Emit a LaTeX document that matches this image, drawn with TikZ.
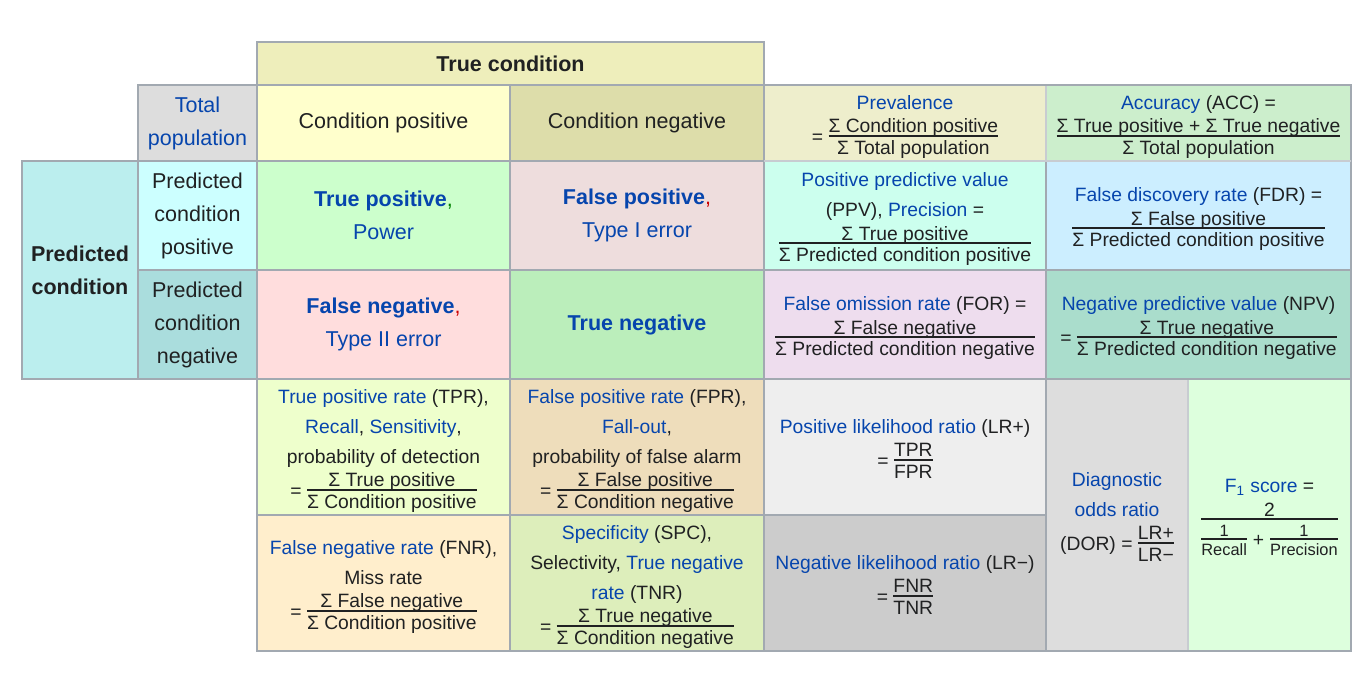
\documentclass[tikz,border=0pt]{standalone}
\usepackage{fontspec}
\setmainfont{Liberation Sans}
\usepackage{xcolor}
\usepackage{tikz}

\definecolor{ink}{HTML}{202122}
\definecolor{wlink}{HTML}{0645AD}
\definecolor{gridc}{HTML}{A2A9B1}
\definecolor{softgrid}{HTML}{C8CCD1}
\definecolor{commared}{HTML}{CC0000}
\definecolor{commagreen}{HTML}{008000}
% cell colours
\definecolor{truecondbg}{HTML}{EEEEBB}
\definecolor{totpopbg}{HTML}{DDDDDD}
\definecolor{condposbg}{HTML}{FFFFCC}
\definecolor{condnegbg}{HTML}{DDDDAA}
\definecolor{prevbg}{HTML}{EEEECC}
\definecolor{accbg}{HTML}{CCEECC}
\definecolor{predcondbg}{HTML}{BBEEEE}
\definecolor{predposbg}{HTML}{CCFFFF}
\definecolor{prednegbg}{HTML}{AADDDD}
\definecolor{tpbg}{HTML}{CCFFCC}
\definecolor{fpbg}{HTML}{EEDDDD}
\definecolor{ppvbg}{HTML}{CCFFEE}
\definecolor{fdrbg}{HTML}{CCEEFF}
\definecolor{fnbg}{HTML}{FFDDDD}
\definecolor{tnbg}{HTML}{BBEEBB}
\definecolor{forbg}{HTML}{EEDDEE}
\definecolor{npvbg}{HTML}{AADDCC}
\definecolor{tprbg}{HTML}{EEFFCC}
\definecolor{fprbg}{HTML}{EEDDBB}
\definecolor{lrposbg}{HTML}{EEEEEE}
\definecolor{fnrbg}{HTML}{FFEECC}
\definecolor{tnrbg}{HTML}{DDEEBB}
\definecolor{lrnegbg}{HTML}{CCCCCC}
\definecolor{dorbg}{HTML}{DDDDDD}
\definecolor{fonebg}{HTML}{DDFFDD}

\newcommand{\bodyfont}{\fontsize{10.75}{16.5}\selectfont}
\newcommand{\formfont}{\fontsize{9.65}{15}\selectfont}
\newcommand{\tinyfrac}{\fontsize{8.2}{9}\selectfont}
\newcommand{\wl}[1]{\textcolor{wlink}{#1}}
\newcommand{\ratio}[3][\relax]{\ensuremath{\vcenter{\hbox{#1\setlength{\tabcolsep}{0pt}\setlength{\arrayrulewidth}{1pt}\renewcommand{\arraystretch}{0.01}\begin{tabular}{c}\raisebox{0pt}[0.76em][0.1em]{#2}\\\hline\rule[-0.22em]{0pt}{1.14em}#3\end{tabular}}}}}
\newcommand{\cellbox}[8][txt]{%
  \filldraw[cellline, fill=#7] (#3,#4) rectangle (#5,#6);
  \node[#1] (#2) at ({(#3+#5)/2},{(#4+#6)/2}) {#8};}

\tikzset{
  cellline/.style={draw=gridc, line width=1pt},
  softline/.style={draw=softgrid, line width=1pt},
  txt/.style={align=center, text=ink, font=\bodyfont, inner sep=0pt},
  formtxt/.style={txt, font=\formfont, yshift=-2pt}
}

\begin{document}
\begin{tikzpicture}[x=0.5pt, y=-0.5pt]
\useasboundingbox (0,0) rectangle (1358,682);

% header row
\cellbox{truecond}{257}{42}{764}{85}{truecondbg}{\textbf{True condition}}
\cellbox{totpop}{138}{85}{257}{161}{totpopbg}{\wl{Total}\\\wl{population}}
\cellbox{condpos}{257}{85}{510}{161}{condposbg}{Condition positive}
\cellbox{condneg}{510}{85}{764}{161}{condnegbg}{Condition negative}
\cellbox[formtxt]{prev}{764}{85}{1046}{161}{prevbg}{\wl{Prevalence}\\[2pt]= \ratio{Σ Condition positive}{Σ Total population}}
\cellbox[formtxt]{acc}{1046}{85}{1351}{161}{accbg}{\wl{Accuracy} (ACC) =\\[2pt]\ratio{Σ True positive + Σ True negative}{Σ Total population}}

% predicted rows
\cellbox{predcond}{22}{161}{138}{379}{predcondbg}{\textbf{Predicted}\\\textbf{condition}}
\cellbox{predpos}{138}{161}{257}{270}{predposbg}{Predicted\\condition\\positive}
\cellbox{predneg}{138}{270}{257}{379}{prednegbg}{Predicted\\condition\\negative}

\cellbox{tp}{257}{161}{510}{270}{tpbg}{\wl{\textbf{True positive}}\textcolor{commagreen}{,}\\\wl{Power}}
\cellbox{fp}{510}{161}{764}{270}{fpbg}{\wl{\textbf{False positive}}\textcolor{commared}{,}\\\wl{Type I error}}
\cellbox[formtxt]{ppv}{764}{161}{1046}{270}{ppvbg}{\wl{Positive predictive value}\\(PPV), \wl{Precision} =\\[2pt]\ratio{Σ True positive}{Σ Predicted condition positive}}
\cellbox[formtxt]{fdr}{1046}{161}{1351}{270}{fdrbg}{\wl{False discovery rate} (FDR) =\\[2pt]\ratio{Σ False positive}{Σ Predicted condition positive}}

\cellbox{fn}{257}{270}{510}{379}{fnbg}{\wl{\textbf{False negative}}\textcolor{commared}{,}\\\wl{Type II error}}
\cellbox{tn}{510}{270}{764}{379}{tnbg}{\wl{\textbf{True negative}}}
\cellbox[formtxt]{for}{764}{270}{1046}{379}{forbg}{\wl{False omission rate} (FOR) =\\[2pt]\ratio{Σ False negative}{Σ Predicted condition negative}}
\cellbox[formtxt]{npv}{1046}{270}{1351}{379}{npvbg}{\wl{Negative predictive value} (NPV)\\[2pt]= \ratio{Σ True negative}{Σ Predicted condition negative}}

% rates
\cellbox[formtxt]{tpr}{257}{379}{510}{515}{tprbg}{\wl{True positive rate} (TPR),\\\wl{Recall}, \wl{Sensitivity},\\probability of detection\\[2pt]= \ratio{Σ True positive}{Σ Condition positive}}
\cellbox[formtxt]{fpr}{510}{379}{764}{515}{fprbg}{\wl{False positive rate} (FPR),\\\wl{Fall-out},\\probability of false alarm\\[2pt]= \ratio{Σ False positive}{Σ Condition negative}}
\cellbox[formtxt]{lrpos}{764}{379}{1046}{515}{lrposbg}{\wl{Positive likelihood ratio} (LR+)\\[2pt]= \ratio{TPR}{FPR}}
\cellbox[formtxt]{fnr}{257}{515}{510}{651}{fnrbg}{\wl{False negative rate} (FNR),\\Miss rate\\[2pt]= \ratio{Σ False negative}{Σ Condition positive}}
\cellbox[formtxt]{tnr}{510}{515}{764}{651}{tnrbg}{\wl{Specificity} (SPC),\\Selectivity, \wl{True negative}\\\wl{rate} (TNR)\\[2pt]= \ratio{Σ True negative}{Σ Condition negative}}
\cellbox[formtxt]{lrneg}{764}{515}{1046}{651}{lrnegbg}{\wl{Negative likelihood ratio} (LR−)\\[2pt]= \ratio{FNR}{TNR}}
\cellbox[formtxt]{dor}{1046}{379}{1188}{651}{dorbg}{\wl{Diagnostic}\\\wl{odds ratio}\\[2pt](DOR) = \ratio{LR+}{LR−}}
\cellbox[formtxt]{fone}{1188}{379}{1351}{651}{fonebg}{\wl{F\textsubscript{1} score} =\\[2pt]\ratio{2}{\rule{0pt}{13.2pt}\ratio[\tinyfrac]{1}{Recall}\hspace{3pt}+\hspace{3pt}\ratio[\tinyfrac]{1}{Precision}}}

% lighter inner borders on the right
\draw[softline] (764,161) -- (1351,161);
\draw[softline] (1046,86) -- (1046,160);
\draw[softline] (1188,380) -- (1188,650);

\end{tikzpicture}
\end{document}
